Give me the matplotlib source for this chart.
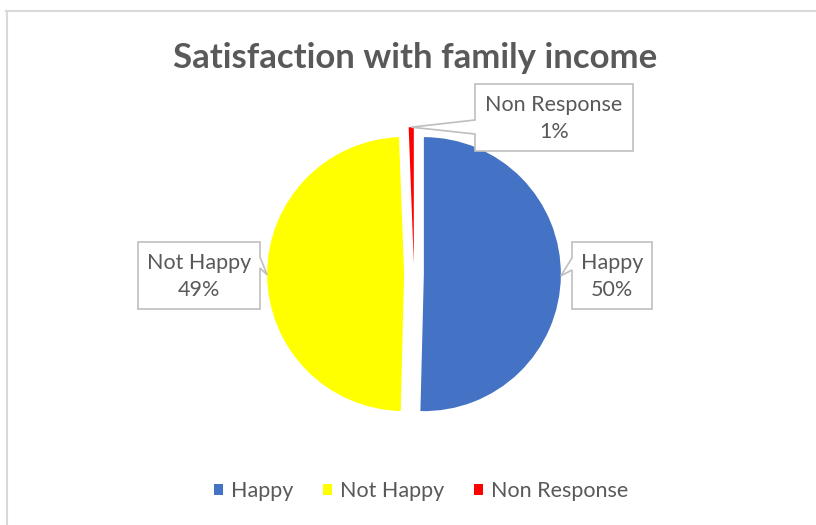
import matplotlib
matplotlib.use("Agg")
import matplotlib.pyplot as plt
import numpy as np
from matplotlib.patches import Polygon
from matplotlib.lines import Line2D

categories = ["Happy", "Not Happy", "Non Response"]
values = [50.4, 49.0, 0.6]
colors = ["#4472C4", "#FFFF00", "#FF0000"]
title = "Satisfaction with family income"

W, H = 816, 525
plt.rcParams['font.family'] = ['Lato', 'DejaVu Sans']
fig = plt.figure(figsize=(W / 100, H / 100), dpi=100)
fig.patch.set_facecolor("white")

def fx(x):
    return x / W

def fy(y):
    return 1 - y / H

# outer chart border (partially visible)
fig.add_artist(Line2D([fx(6), fx(816)], [fy(10.5), fy(10.5)], transform=fig.transFigure,
                      color="#D9D9D9", lw=1.5))
fig.add_artist(Line2D([fx(7), fx(7)], [fy(10.5), fy(525)], transform=fig.transFigure,
                      color="#D9D9D9", lw=1.5))

# pie axes: radius 1 = R px
R = 137
cx, cy = 414, 274
ext = 1.5
ax = fig.add_axes([fx(cx - ext * R), fy(cy + ext * R), 2 * ext * R / W, 2 * ext * R / H])

wedges, _ = ax.pie(values, colors=colors, startangle=90, counterclock=False,
                   explode=[0.072, 0.072, 0.072], radius=1.0,
                   wedgeprops=dict(linewidth=0))
ax.set_xlim(-ext, ext)
ax.set_ylim(-ext, ext)
ax.set_aspect("equal")
ax.axis("off")

fig.text(fx(415), fy(68), title, ha="center", va="baseline",
         fontsize=25, fontweight="bold", color="#595959")

# callouts
def tip_of(w):
    mid = np.deg2rad((w.theta1 + w.theta2) / 2)
    x = w.center[0] + w.r * np.cos(mid)
    y = w.center[1] + w.r * np.sin(mid)
    px, py = ax.transData.transform((x, y))
    return px, H - py  # to top-down pixel coords

def callout(box, side, base, tip, text):
    x0, y0, x1, y1 = box
    b0, b1 = base
    if side == "left":
        pts = [(x0, y0), (x1, y0), (x1, y1), (x0, y1), (x0, b1), tip, (x0, b0)]
    else:
        pts = [(x0, y0), (x1, y0), (x1, b0), tip, (x1, b1), (x1, y1), (x0, y1)]
    poly = Polygon([(fx(px), fy(py)) for px, py in pts], closed=True,
                   transform=fig.transFigure, facecolor="white",
                   edgecolor="#BFBFBF", lw=1.2, zorder=5)
    fig.add_artist(poly)
    fig.text(fx((x0 + x1) / 2), fy((y0 + y1) / 2 + 1), text, ha="center", va="center",
             fontsize=15.5, color="#595959", linespacing=1.4, zorder=6)

total = sum(values)
pct = [f"{int(v / total * 100 + 0.5)}%" for v in values]

t_h = tip_of(wedges[0])
t_n = tip_of(wedges[1])
t_r = tip_of(wedges[2])

callout((572, 242, 652, 309), "left", (258, 270), t_h, f"{categories[0]}\n{pct[0]}")
callout((138, 242, 260, 309), "right", (257, 268), t_n, f"{categories[1]}\n{pct[1]}")
callout((475, 84, 633, 151), "left", (120, 134), t_r, f"{categories[2]}\n{pct[2]}")

# legend
handles = [plt.Rectangle((0, 0), 1, 1, facecolor=c, edgecolor="none") for c in colors]
leg = fig.legend(handles, categories, loc="center", bbox_to_anchor=(fx(421), fy(491)),
                 ncol=3, frameon=False, fontsize=15.5, handlelength=0.42, handleheight=0.42,
                 handletextpad=0.4, columnspacing=1.35, labelcolor="#595959")

fig.savefig("out.png", dpi=100)
